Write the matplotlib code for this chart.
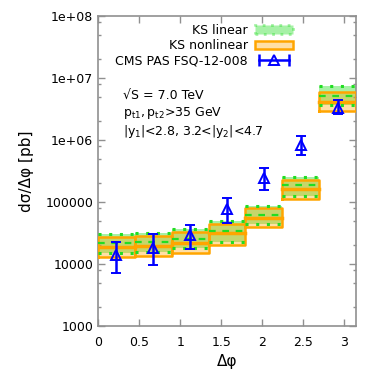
import numpy as np
import matplotlib
matplotlib.use("Agg")
import matplotlib.pyplot as plt
from matplotlib.patches import Patch
from matplotlib.lines import Line2D
from matplotlib.legend_handler import HandlerLine2D
from matplotlib.ticker import FixedLocator, FixedFormatter

plt.rcParams['font.family'] = 'DejaVu Sans'
plt.rcParams['mathtext.default'] = 'regular'

# 7 bins in delta phi from 0 to pi
n_bins = 7
edges = np.linspace(0, np.pi, n_bins + 1)
centers = 0.5 * (edges[:-1] + edges[1:])

# KS linear band (upper / central / lower)
lin_hi = [30500, 31500, 36700, 49900, 87000, 253000, 7.5e6]
lin_mid = [21800, 22500, 25300, 34000, 61700, 188000, 5.19e6]
lin_lo = [15000, 15500, 18100, 22600, 44100, 125000, 3.67e6]

# KS nonlinear band
nl_hi = [27200, 28000, 32800, 44100, 80000, 226000, 6.0e6]
nl_mid = [18800, 19300, 21800, 31600, 55200, 162000, 4.15e6]
nl_lo = [13000, 13300, 15000, 20200, 39500, 112000, 2.94e6]

# CMS data
cms_y = [14000, 18300, 29400, 77000, 241000, 830000, 3.24e6]
cms_hi = [22600, 30100, 42600, 116000, 350000, 1.16e6, 4.42e6]
cms_lo = [7200, 9600, 17500, 45800, 156000, 573000, 2.62e6]

green = '#22dd22'
orange = '#ffa500'
blue = '#0000ff'
grey = '#909090'

fig = plt.figure(figsize=(3.74, 3.74), dpi=100)
ax = fig.add_axes([0.262, 0.128, 0.69, 0.829])

for i in range(n_bins):
    x0, x1 = edges[i], edges[i + 1]
    # green band
    ax.fill_between([x0, x1], lin_lo[i], lin_hi[i], color=green, alpha=0.4, lw=0, zorder=1)
    # orange band
    ax.fill_between([x0, x1], nl_lo[i], nl_hi[i], color=orange, alpha=0.35, lw=0, zorder=2)
    ax.plot([x0, x1, x1, x0, x0], [nl_lo[i], nl_lo[i], nl_hi[i], nl_hi[i], nl_lo[i]],
            color=orange, lw=1.8, zorder=3)
    ax.plot([x0, x1], [nl_mid[i]] * 2, color=orange, lw=2.5, zorder=3)
    for v in (lin_hi[i], lin_lo[i]):
        ax.plot([x0, x1], [v, v], color=green, lw=2.2, ls=(0, (1, 2.5)), zorder=4)
    ax.plot([x0, x1], [lin_mid[i]] * 2, color=green, lw=1.6, ls=(0, (3, 3)), zorder=4)

yerr = [np.array(cms_y) - np.array(cms_lo), np.array(cms_hi) - np.array(cms_y)]
ax.errorbar(centers, cms_y, yerr=yerr, fmt='^', color=blue, mfc='none', mec=blue,
            mew=1.4, ms=7, elinewidth=1.8, capsize=3.5, capthick=1.8, zorder=5)

ax.set_yscale('log')
ax.set_xlim(0, np.pi)
ax.set_ylim(1000, 1e8)

major = [1e3, 1e4, 1e5, 1e6, 1e7, 1e8]
ax.yaxis.set_major_locator(FixedLocator(major))
ax.yaxis.set_major_formatter(FixedFormatter(['1000', '10000', '100000', '1e+06', '1e+07', '1e+08']))
minor = [m * d for d in major[:-1] for m in (2, 5, 8)]
ax.yaxis.set_minor_locator(FixedLocator(minor))
ax.set_xticks([0, 0.5, 1, 1.5, 2, 2.5, 3])
ax.set_xticklabels(['0', '0.5', '1', '1.5', '2', '2.5', '3'])

ax.tick_params(which='both', direction='in', top=True, right=True, color=grey, labelsize=9)
ax.tick_params(which='major', length=5, width=1)
ax.tick_params(which='minor', length=2.5, width=1)
ax.tick_params(axis='x', pad=7)
for s in ax.spines.values():
    s.set_color(grey)
    s.set_linewidth(1.2)

ax.set_xlabel('Δφ', fontsize=11)
ax.set_ylabel('dσ/Δφ [pb]', fontsize=11, labelpad=8)

ax.text(0.097, 0.745, '√S = 7.0 TeV', transform=ax.transAxes, fontsize=9, va='center')
ax.text(0.097, 0.687, r'$p_{t1},p_{t2}$>35 GeV', transform=ax.transAxes, fontsize=9, va='center')
ax.text(0.097, 0.627, r'|$y_1$|<2.8, 3.2<|$y_2$|<4.7', transform=ax.transAxes, fontsize=9, va='center')

h_lin = Patch(facecolor=green, alpha=0.4, edgecolor=green, lw=2, ls=(0, (1, 2)))
h_nl = Patch(facecolor=(1.0, 0.647, 0.0, 0.35), edgecolor=orange, lw=1.8)
h_bar = Line2D([], [], color=blue, lw=1.8, marker='|', ms=8, mew=1.8)
h_tri = Line2D([], [], ls='none', marker='^', mfc='none', mec=blue, mew=1.4, ms=7)
leg = ax.legend([h_lin, h_nl, (h_bar, h_tri)], ['KS linear', 'KS nonlinear', 'CMS PAS FSQ-12-008'],
                handler_map={h_bar: HandlerLine2D(numpoints=2), h_tri: HandlerLine2D(numpoints=1)},
                loc='upper right', bbox_to_anchor=(0.755, 0.975), frameon=False, markerfirst=False,
                fontsize=9, handlelength=3.0, handleheight=0.7, labelspacing=0.2,
                borderpad=0, borderaxespad=0, handletextpad=0.6)

fig.savefig('out.png', dpi=100)
